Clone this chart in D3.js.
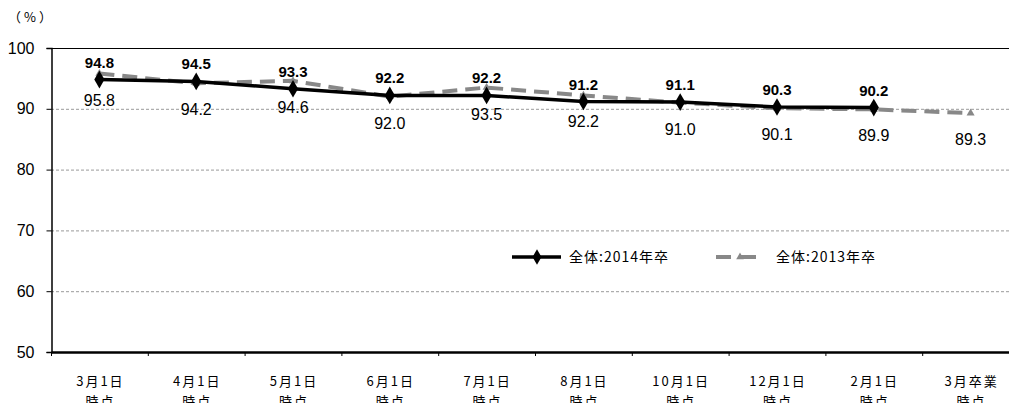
<!DOCTYPE html>
<html>
<head>
<meta charset="utf-8">
<script src="https://cdn.jsdelivr.net/npm/d3@7"></script>
<style>
  body { margin: 0; background: #fff; }
  text { font-family: "Liberation Sans", "Noto Sans CJK JP", sans-serif; }
  .jp { font-family: "Noto Sans CJK JP", sans-serif; }
</style>
</head>
<body>
<div id="chart"></div>
<script>
const categories = ['3月1日\n時点', '4月1日\n時点', '5月1日\n時点', '6月1日\n時点', '7月1日\n時点',
  '8月1日\n時点', '10月1日\n時点', '12月1日\n時点', '2月1日\n時点', '3月卒業\n時点'];
const values2014 = [94.8, 94.5, 93.3, 92.2, 92.2, 91.2, 91.1, 90.3, 90.2];
const values2013 = [95.8, 94.2, 94.6, 92.0, 93.5, 92.2, 91.0, 90.1, 89.9, 89.3];
const yTicks = [50, 60, 70, 80, 90, 100];
const legendLabels = ['全体:2014年卒', '全体:2013年卒'];

const width = 1009, height = 403;
const mLeft = 51, mRight = 1019, mTop = 48, mBottom = 352;

const svg = d3.select('#chart').append('svg')
  .attr('width', width).attr('height', height);

const x = d3.scaleBand().domain(categories).range([mLeft, mRight]);
const y = d3.scaleLinear().domain([50, 100]).range([mBottom, mTop]);
const cx = (i) => x(categories[i]) + x.bandwidth() / 2;

// grid
svg.append('g').selectAll('line')
  .data(yTicks.filter(d => d > 50 && d < 100))
  .enter().append('line')
  .attr('x1', mLeft).attr('x2', mRight)
  .attr('y1', d => y(d) + 0.5).attr('y2', d => y(d) + 0.5)
  .attr('stroke', '#9a9a9a').attr('stroke-dasharray', '3,2').attr('stroke-width', 1);

// top border
svg.append('line').attr('x1', mLeft).attr('x2', mRight)
  .attr('y1', mTop + 0.5).attr('y2', mTop + 0.5).attr('stroke', '#000');

// y axis
const yAxis = svg.append('g')
  .attr('transform', 'translate(' + (mLeft + 0.5) + ',0)')
  .call(d3.axisLeft(y).tickValues(yTicks).tickSize(5).tickPadding(12));
yAxis.select('.domain').attr('stroke', '#000').attr('stroke-width', 1.5);
yAxis.selectAll('text').attr('font-size', 16).attr('fill', '#000')
  .style('font-family', '"Liberation Sans", sans-serif');

// x axis
const xAxis = svg.append('g')
  .attr('transform', 'translate(0,' + mBottom + ')')
  .call(d3.axisBottom(x).tickSize(0).tickFormat(''));
xAxis.select('.domain').attr('stroke', '#000').attr('stroke-width', 2.5);
svg.append('g').selectAll('line')
  .data(categories)
  .enter().append('line')
  .attr('x1', d => x(d) + 0.5).attr('x2', d => x(d) + 0.5)
  .attr('y1', mBottom).attr('y2', mBottom + 4)
  .attr('stroke', '#000');

// category labels, second line runs off the bottom like the original
categories.forEach((c, i) => {
  const t = svg.append('text').attr('class', 'jp')
    .attr('x', cx(i)).attr('y', mBottom + 34)
    .attr('text-anchor', 'middle').attr('font-size', 13)
    .style('letter-spacing', '2px');
  c.split('\n').forEach((s, k) => {
    t.append('tspan').attr('x', cx(i) + 1).attr('dy', k === 0 ? 0 : 20).text(s);
  });
});

// unit label
svg.append('text').attr('class', 'jp').attr('x', 8).attr('y', 22).attr('font-size', 13)
  .style('letter-spacing', '3px').text('（%）');

const line = d3.line().x((d, i) => cx(i)).y(d => y(d));

// 2013 dashed series
svg.append('path').datum(values2013)
  .attr('d', line).attr('fill', 'none')
  .attr('stroke', '#888').attr('stroke-width', 4)
  .attr('stroke-dasharray', '15,8');
svg.append('g').selectAll('path')
  .data(values2013).enter().append('path')
  .attr('d', d3.symbol().type(d3.symbolTriangle).size(28))
  .attr('transform', (d, i) => 'translate(' + cx(i) + ',' + y(d) + ')')
  .attr('fill', '#888');

// 2014 solid series
svg.append('path').datum(values2014)
  .attr('d', line).attr('fill', 'none')
  .attr('stroke', '#000').attr('stroke-width', 3.5);
svg.append('g').selectAll('path')
  .data(values2014).enter().append('path')
  .attr('d', d3.symbol().type(d3.symbolDiamond).size(90))
  .attr('transform', (d, i) => 'translate(' + cx(i) + ',' + y(d) + ')')
  .attr('fill', '#000');

// value labels
svg.append('g').selectAll('text')
  .data(values2014).enter().append('text')
  .attr('x', (d, i) => cx(i)).attr('y', d => y(d) - 12)
  .attr('text-anchor', 'middle').attr('font-size', 15).attr('font-weight', 'bold')
  .text(d => d.toFixed(1));
svg.append('g').selectAll('text')
  .data(values2013).enter().append('text')
  .attr('x', (d, i) => cx(i)).attr('y', d => y(d) + 32)
  .attr('text-anchor', 'middle').attr('font-size', 16)
  .text(d => d.toFixed(1));

// legend
const lg = svg.append('g');
lg.append('line').attr('x1', 512).attr('x2', 561).attr('y1', 257).attr('y2', 257)
  .attr('stroke', '#000').attr('stroke-width', 3.5);
lg.append('path').attr('d', d3.symbol().type(d3.symbolDiamond).size(70)())
  .attr('transform', 'translate(537,257)');
lg.append('text').attr('class', 'jp').attr('x', 569).attr('y', 262).attr('font-size', 14)
  .style('letter-spacing', '1px').text(legendLabels[0]);
lg.append('line').attr('x1', 716).attr('x2', 765).attr('y1', 257).attr('y2', 257)
  .attr('stroke', '#888').attr('stroke-width', 4).attr('stroke-dasharray', '15,10');
lg.append('path').attr('d', d3.symbol().type(d3.symbolTriangle).size(25)())
  .attr('transform', 'translate(740,257)').attr('fill', '#888');
lg.append('text').attr('class', 'jp').attr('x', 776).attr('y', 262).attr('font-size', 14)
  .style('letter-spacing', '1px').text(legendLabels[1]);
</script>
</body>
</html>
